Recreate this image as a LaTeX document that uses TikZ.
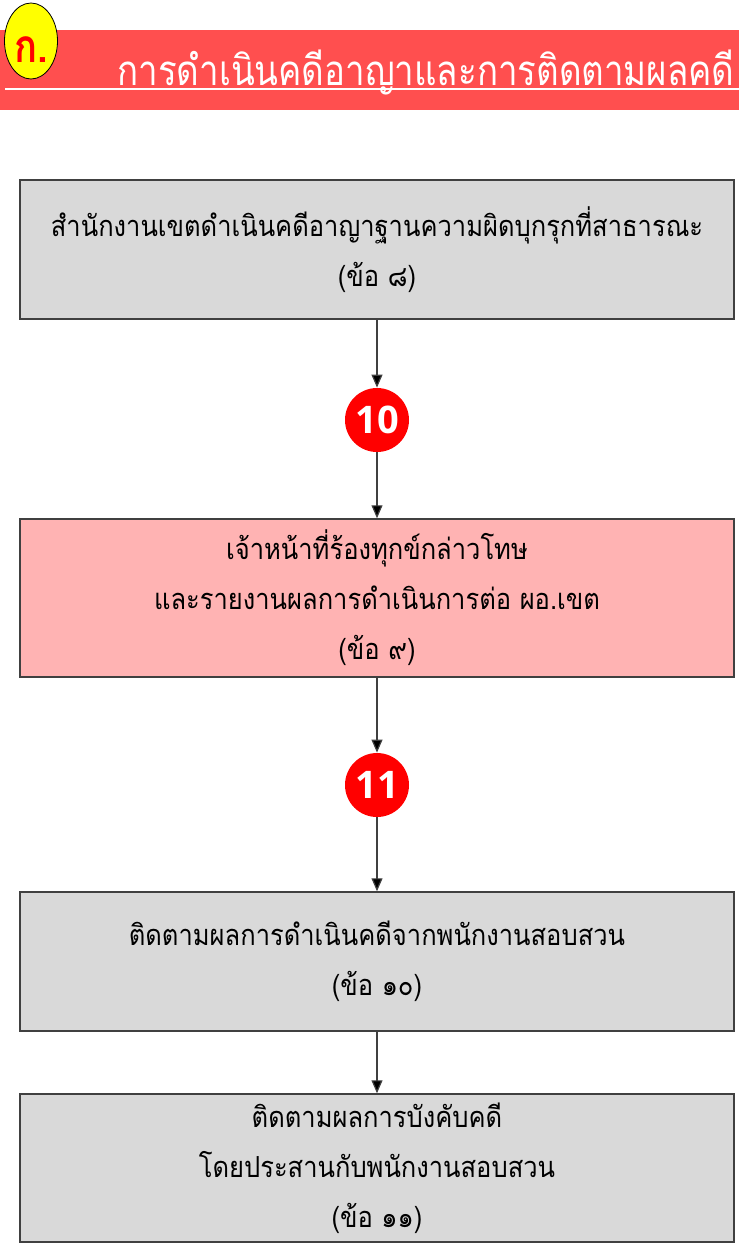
\documentclass[tikz,border=0pt]{standalone}
\usepackage{fontspec}
\newfontfamily\thaifont[Script=Thai,FakeStretch=0.88]{Loma}
\newfontfamily\thaititle[Script=Thai,FakeStretch=0.83]{Loma}
\newfontfamily\numfont{Open Sans}
\usetikzlibrary{arrows.meta,shapes.geometric}
\definecolor{hdr}{HTML}{FF4F4F}
\definecolor{boxgray}{HTML}{D9D9D9}
\definecolor{boxpink}{HTML}{FFB3B3}
\definecolor{edgec}{HTML}{404040}
\definecolor{badge}{HTML}{FFFF00}
\begin{document}
\begin{tikzpicture}[x=0.5pt,y=-0.5pt,
  stepbox/.style={draw=edgec, line width=0.75pt, minimum width=357pt, align=center, inner sep=0pt,
    font=\thaifont\fontsize{14.5}{25}\selectfont},
  numcirc/.style={circle, fill=red, minimum size=32pt, inner sep=0pt, text=white,
    font=\numfont\bfseries\fontsize{19}{20}\selectfont},
  flow/.style={draw=edgec, line width=0.6pt, -{Triangle[length=6.5pt,width=5.5pt,fill=black]}}]
\useasboundingbox (0,0) rectangle (739,1260);
% header
\fill[hdr] (0,30) rectangle (739,110);
\draw[white, line width=1pt] (5,89) -- (739,89);
\node[anchor=base east, text=white, inner sep=0pt, font=\thaititle\fontsize{21}{24}\selectfont] (title) at (735,85) {การดำเนินคดีอาญาและการติดตามผลคดี};
\node[ellipse, draw=black, line width=0.4pt, fill=badge, minimum width=26.5pt, minimum height=38pt, inner sep=0pt] (badge) at (31,41) {};
\node[text=red, inner sep=0pt, font=\thaititle\bfseries\fontsize{23}{24}\selectfont] (badgetxt) at (31,50) {ก.};
% boxes
\node[stepbox, fill=boxgray, minimum height=69.5pt] (b1) at (377,249.5) {สำนักงานเขตดำเนินคดีอาญาฐานความผิดบุกรุกที่สาธารณะ\\(ข้อ ๘)};
\node[numcirc] (c10) at (377,420) {10};
\node[stepbox, fill=boxpink, minimum height=79pt] (b2) at (377,598) {เจ้าหน้าที่ร้องทุกข์กล่าวโทษ\\และรายงานผลการดำเนินการต่อ ผอ.เขต\\(ข้อ ๙)};
\node[numcirc] (c11) at (377,785) {11};
\node[stepbox, fill=boxgray, minimum height=69.5pt] (b3) at (377,961.5) {ติดตามผลการดำเนินคดีจากพนักงานสอบสวน\\(ข้อ ๑๐)};
\node[stepbox, fill=boxgray, minimum height=74pt] (b4) at (377,1168) {ติดตามผลการบังคับคดี\\โดยประสานกับพนักงานสอบสวน\\(ข้อ ๑๑)};
% connectors
\draw[flow] (b1) -- (c10);
\draw[flow] (c10) -- (b2);
\draw[flow] (b2) -- (c11);
\draw[flow] (c11) -- (b3);
\draw[flow] (b3) -- (b4);
\end{tikzpicture}
\end{document}
